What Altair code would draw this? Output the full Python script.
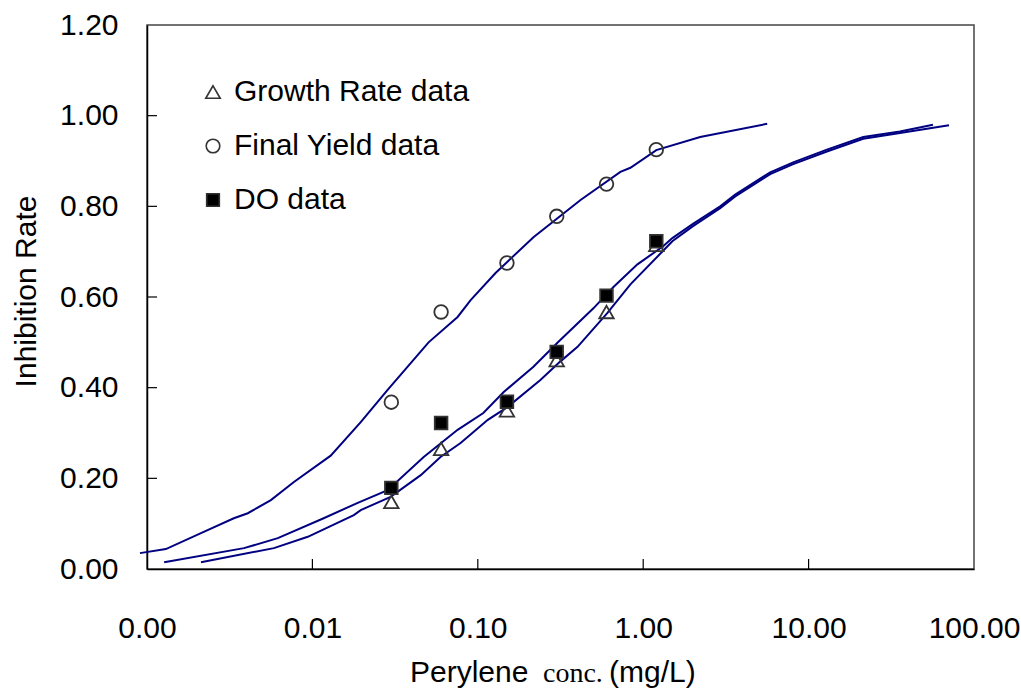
import altair as alt
import pandas as pd

# Measured inhibition rates at each perylene concentration (mg/L)
conc = [0.03, 0.06, 0.15, 0.3, 0.6, 1.2]
growth_rate = [0.148, 0.265, 0.350, 0.461, 0.567, 0.715]
final_yield = [0.368, 0.567, 0.675, 0.778, 0.849, 0.925]
do_data = [0.179, 0.322, 0.369, 0.479, 0.603, 0.723]
series_names = ["Growth Rate data", "Final Yield data", "DO data"]

# Fitted dose-response curves
fy_x = [0.000907, 0.0013, 0.00212, 0.00335, 0.00407, 0.00561, 0.00773, 0.0129,
        0.0196, 0.0285, 0.0504, 0.0755, 0.0905, 0.128, 0.217, 0.418, 0.728,
        0.837, 1.20, 2.21, 5.62]
fy_y = [0.035, 0.044, 0.079, 0.112, 0.123, 0.152, 0.192, 0.250, 0.324, 0.395,
        0.500, 0.556, 0.593, 0.653, 0.732, 0.814, 0.876, 0.885, 0.924, 0.953,
        0.982]
do_x = [0.00127, 0.00386, 0.00618, 0.0117, 0.0188, 0.0285, 0.0471, 0.0755,
        0.108, 0.143, 0.217, 0.303, 0.500, 0.661, 0.923, 1.32, 1.50, 2.01,
        2.92, 3.60, 5.86, 8.07, 12.9, 21.4, 35.7, 56.5]
do_y = [0.015, 0.046, 0.068, 0.112, 0.146, 0.174, 0.247, 0.307, 0.344, 0.390,
        0.446, 0.499, 0.575, 0.622, 0.672, 0.712, 0.730, 0.762, 0.800, 0.826,
        0.875, 0.897, 0.925, 0.953, 0.965, 0.980]
gr_x = [0.00212, 0.00585, 0.00938, 0.0178, 0.0196, 0.0297, 0.0452, 0.0595,
        0.0787, 0.115, 0.151, 0.239, 0.316, 0.401, 0.608, 0.837, 1.32, 1.50,
        2.01, 2.92, 3.60, 5.86, 8.07, 12.9, 21.4, 35.7, 70.6]
gr_y = [0.015, 0.046, 0.071, 0.119, 0.130, 0.159, 0.207, 0.247, 0.278, 0.329,
        0.357, 0.417, 0.458, 0.490, 0.565, 0.628, 0.702, 0.723, 0.757, 0.796,
        0.822, 0.871, 0.893, 0.921, 0.949, 0.962, 0.979]

x_tick_values = [0.001, 0.01, 0.1, 1, 10, 100]
y_tick_values = [0.0, 0.2, 0.4, 0.6, 0.8, 1.0, 1.2]
x_title_parts = ["Perylene", "conc.", "(mg/L)"]

FONT = "Liberation Sans"
LINE_COLOR = "#000080"
MARKER_EDGE = "#333333"

points = pd.DataFrame({
    "conc": conc * 3,
    "rate": growth_rate + final_yield + do_data,
    "series": [series_names[0]] * 6 + [series_names[1]] * 6 + [series_names[2]] * 6,
})
curves = pd.concat([
    pd.DataFrame({"conc": fy_x, "rate": fy_y, "curve": "final_yield_fit"}),
    pd.DataFrame({"conc": do_x, "rate": do_y, "curve": "do_fit"}),
    pd.DataFrame({"conc": gr_x, "rate": gr_y, "curve": "growth_fit"}),
])

x_scale = alt.Scale(type="log", domain=[0.001, 100], nice=False)
y_scale = alt.Scale(domain=[0, 1.2], nice=False)

x_axis = alt.Axis(values=x_tick_values, format=".2f", tickSize=0, labelFontSize=30,
                  labelFont=FONT, labelColor="black", labelPadding=44,
                  labelFlush=False, domainColor="black", domainWidth=1.5,
                  grid=False, title=None)
y_axis = alt.Axis(values=y_tick_values, format=".2f", tickSize=0, labelFontSize=30,
                  labelFont=FONT, labelColor="black", labelPadding=29,
                  domainColor="black", domainWidth=1.5, grid=False,
                  title="Inhibition Rate", titleFont=FONT, titleFontSize=30,
                  titleFontWeight="normal", titleColor="black",
                  titleX=-112, titleY=266, titleAngle=270,
                  titleBaseline="alphabetic", titleAlign="center")

lines = alt.Chart(curves).mark_line(color=LINE_COLOR, strokeWidth=2, clip=False).encode(
    x=alt.X("conc:Q", scale=x_scale, axis=x_axis),
    y=alt.Y("rate:Q", scale=y_scale, axis=y_axis),
    detail="curve:N",
    order=alt.Order("conc:Q"),
)

legend = alt.Legend(title=None, orient="none", legendX=51, legendY=52,
                    labelFont=FONT, labelFontSize=30, labelColor="black",
                    labelLimit=0, symbolStrokeWidth=1.6,
                    rowPadding=24, labelOffset=6, padding=0)

marks = alt.Chart(points).mark_point(filled=True, strokeWidth=1.8,
                                     opacity=1).encode(
    x=alt.X("conc:Q", scale=x_scale, axis=x_axis),
    y=alt.Y("rate:Q", scale=y_scale, axis=y_axis),
    shape=alt.Shape("series:N",
                    scale=alt.Scale(domain=series_names,
                                    range=["triangle-up", "circle", "square"]),
                    legend=legend),
    fill=alt.Fill("series:N",
                  scale=alt.Scale(domain=series_names,
                                  range=["transparent", "transparent", "black"]),
                  legend=legend),
    stroke=alt.Stroke("series:N",
                      scale=alt.Scale(domain=series_names,
                                      range=[MARKER_EDGE, MARKER_EDGE, MARKER_EDGE]),
                      legend=legend),
    size=alt.Size("series:N",
                  scale=alt.Scale(domain=series_names, range=[210, 160, 160]),
                  legend=legend),
)

# Inward tick marks on both axes
y_ticks = alt.Chart(pd.DataFrame({"rate": y_tick_values[1:-1]})).mark_rule(
    color="black", strokeWidth=1.2).encode(
    y=alt.Y("rate:Q", scale=y_scale, axis=y_axis),
    x=alt.value(0), x2=alt.value(10),
)
x_ticks = alt.Chart(pd.DataFrame({"conc": x_tick_values[1:-1]})).mark_rule(
    color="black", strokeWidth=1.2).encode(
    x=alt.X("conc:Q", scale=x_scale, axis=x_axis),
    y=alt.value(544), y2=alt.value(534),
)

# X-axis title set in mixed typefaces
def title_part(text, x, font, size):
    return alt.Chart(pd.DataFrame({"t": [text]})).mark_text(
        font=font, fontSize=size, align="left", baseline="alphabetic",
        color="black", clip=False).encode(
        text="t:N", x=alt.value(x), y=alt.value(657))

title_layers = [
    title_part(x_title_parts[0], 263, FONT, 30),
    title_part(x_title_parts[1], 396, "Liberation Serif", 28),
    title_part(x_title_parts[2], 462, FONT, 30),
]

chart = alt.layer(lines, y_ticks, x_ticks, marks, *title_layers).properties(
    width=827, height=544,
    padding={"left": 147, "top": 25, "right": 47, "bottom": 126},
    autosize=alt.AutoSizeParams(type="none"),
    background="white",
).configure_view(stroke="#444444", strokeWidth=1.5)

chart.save("out.html", embed_options={"renderer": "svg", "actions": False})
